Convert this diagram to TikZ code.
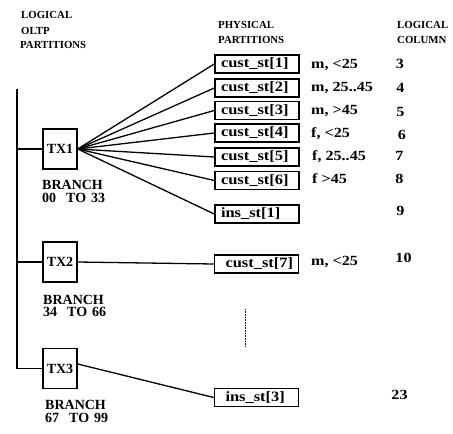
\documentclass[tikz,border=0pt]{standalone}
\usepackage{fontspec}
\setmainfont{Liberation Serif}
\newfontfamily\widefont[FakeStretch=1.15]{Liberation Serif}
\begin{document}
\begin{tikzpicture}[x=1pt,y=-1pt,
  lbl/.style={font=\bfseries\fontsize{14}{14}\selectfont, inner sep=0pt, text height=9.3pt, text depth=0pt},
  wlbl/.style={font=\widefont\bfseries\fontsize{14}{14}\selectfont, inner sep=0pt, text height=9.3pt, text depth=0pt},
  hdr/.style={font=\bfseries\fontsize{10.8}{13}\selectfont, inner sep=0pt, text height=7.1pt, text depth=0pt, anchor=west},
  txbox/.style={draw, line width=1.4pt, minimum width=34pt, minimum height=40pt, inner sep=0pt, font=\bfseries\fontsize{14}{14}\selectfont},
  pbox/.style={draw, line width=1.5pt, minimum height=18pt, inner xsep=6pt, inner ysep=0pt, text width=72pt, align=left, font=\widefont\bfseries\fontsize{14.3}{14.3}\selectfont, text height=9.8pt, text depth=2.2pt},
  conn/.style={line width=1.3pt},
]
\useasboundingbox (0,0) rectangle (453,434);
% headers
\node[hdr] (h1) at (21,15) {LOGICAL};
\node[hdr] (h2) at (21,31) {OLTP};
\node[hdr] (h3) at (20,45) {PARTITIONS};
\node[hdr] (h4) at (218,25) {PHYSICAL};
\node[hdr] (h5) at (218,40) {PARTITIONS};
\node[hdr] (h6) at (397,25) {LOGICAL};
\node[hdr] (h7) at (397,40) {COLUMN};
% transaction boxes
\node[txbox] (tx1) at (60,149) {TX1};
\node[txbox] (tx2) at (60,262) {TX2};
\node[txbox] (tx3) at (60,368.5) {TX3};
\node[lbl,anchor=west] (b1a) at (42,185) {BRANCH};
\node[lbl,anchor=west] (b1b) at (42,198) {00\hspace{10pt}TO\hspace{5pt}33};
\node[lbl,anchor=west] (b2a) at (43,299.5) {BRANCH};
\node[lbl,anchor=west] (b2b) at (43,312) {34\hspace{10pt}TO\hspace{5pt}66};
\node[lbl,anchor=west] (b3a) at (45,405) {BRANCH};
\node[lbl,anchor=west] (b3b) at (45,418) {67\hspace{10pt}TO\hspace{5pt}99};
% partition boxes
\node[pbox] (c1) at (257,64) {cust\_st[1]};
\node[pbox] (c2) at (257,88) {cust\_st[2]};
\node[pbox] (c3) at (257,110.5) {cust\_st[3]};
\node[pbox] (c4) at (257,133) {cust\_st[4]};
\node[pbox] (c5) at (257,157) {cust\_st[5]};
\node[pbox] (c6) at (257,180.5) {cust\_st[6]};
\node[pbox] (i1) at (257,214) {ins\_st[1]};
\node[pbox] (c7) at (256.5,264) {\mbox{\hspace{5pt}cust\_st[7]}};
\node[pbox] (i3) at (256.5,397.5) {\mbox{\hspace{5pt}ins\_st[3]}};
% attribute labels
\node[wlbl,anchor=west] (a1) at (311,64) {m, <25};
\node[wlbl,anchor=west] (a2) at (311,87) {m, 25..45};
\node[wlbl,anchor=west] (a3) at (311,110) {m, >45};
\node[wlbl,anchor=west] (a4) at (311,132.5) {f, <25};
\node[wlbl,anchor=west] (a5) at (312,156) {f, 25..45};
\node[wlbl,anchor=west] (a6) at (312,179) {f >45};
\node[wlbl,anchor=west] (a7) at (311,261) {m, <25};
% logical column numbers
\node[wlbl] (n3) at (400,64) {3};
\node[wlbl] (n4) at (400.5,88) {4};
\node[wlbl] (n5) at (400.5,112) {5};
\node[wlbl] (n6) at (402,134.5) {6};
\node[wlbl] (n7) at (399.5,156) {7};
\node[wlbl] (n8) at (399.5,178.5) {8};
\node[wlbl] (n9) at (400.5,211) {9};
\node[wlbl] (n10) at (403.5,257.5) {10};
\node[wlbl] (n23) at (399.5,395) {23};
% trunk
\coordinate (ttop) at (17,89);
\coordinate (t1) at (17,149);
\coordinate (t2) at (17,262);
\coordinate (t3) at (17,368.5);
\draw[conn] (ttop) -- (t3) -- (tx3.west);
\draw[conn] (t1) -- (tx1.west);
\draw[conn] (t2) -- (tx2.west);
% fan-out
\foreach \n in {c1,c2,c3,c4,c5,c6,i1}
  \draw[conn] (tx1.east) -- (\n.west);
\draw[conn] (tx2.east) -- (c7.west);
\draw[conn] ([yshift=4.5pt]tx3.east) -- (i3.west);
% dotted continuation
\coordinate (d1) at (245,309);
\coordinate (d2) at (245,346);
\draw[line width=1pt, dash pattern=on 0.8pt off 0.8pt] (d1) -- (d2);
\end{tikzpicture}
\end{document}
